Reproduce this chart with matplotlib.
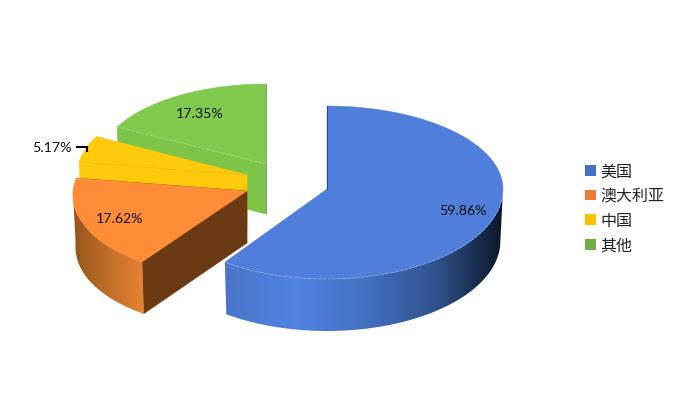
import numpy as np
import matplotlib

matplotlib.use("Agg")
import matplotlib.pyplot as plt
from matplotlib.colors import LinearSegmentedColormap
from matplotlib.patches import Patch, Polygon

plt.rcParams["font.family"] = ["Noto Sans CJK SC", "DejaVu Sans"]

# data
categories = ["美国", "澳大利亚", "中国", "其他"]
shares = [59.86, 17.62, 5.17, 17.35]
labels = ["59.86%", "17.62%", "5.17%", "17.35%"]

# colours
TOP_COLORS = ["#4F7FDA", "#FF8C36", "#FFC90C", "#7FC94C"]
LEGEND_COLORS = ["#4472C4", "#ED7D31", "#FFC000", "#70AD47"]
INNER_COLORS = ["#2A4A80", "#6B3A13", "#FFC90C", "#7CC549"]
WALL_STOPS = [
    ["#4A76C9", "#5183E2", "#4471C4", "#31548F", "#0A1626"],
    ["#94551C", "#C06E27", "#E88232"],
    ["#FFC90C", "#FFC90C"],
    ["#7CC549", "#7CC549"],
]

# layout of each exploded slice, in figure pixels
APEX_X = [327, 247, 247, 266]
APEX_Y = [190, 192, 176, 165]
RADIUS_X = [176, 174, 170, 168]
RADIUS_BACK = [83, 83, 83, 80]
RADIUS_FRONT = [90, 87, 87, 87]
WIDEN = [0.0, 0.045, 0.0, 0.0]
DEPTH = [52, 52, 52, 50]
BOTTOM_SHRINK = 0.985
LABEL_X = [463, 120, 52, 200]
LABEL_Y = [211.5, 219.5, 148.5, 113.5]


def rim(i, angles, depth=0.0):
    # angles run clockwise from straight up
    shrink = BOTTOM_SHRINK if depth else 1.0
    cos = np.cos(angles)
    ry = np.where(cos >= 0, RADIUS_BACK[i], RADIUS_FRONT[i])
    rx = RADIUS_X[i] / (1 + WIDEN[i] * cos)
    x = APEX_X[i] + rx * shrink * np.sin(angles)
    y = APEX_Y[i] - ry * cos + depth
    return np.column_stack([x, y])


fig = plt.figure(figsize=(6.75, 4.1), dpi=100)
ax = fig.add_axes([0, 0, 1, 1])

edges = np.radians(np.concatenate([[0], np.cumsum(shares)]) * 3.6)
# back slices first, the big blue one goes on top
draw_order = [3, 2, 1, 0]

for order, i in enumerate(draw_order):
    z = 2 + order * 5
    start, end = edges[i], edges[i + 1]
    apex = np.array([APEX_X[i], APEX_Y[i]], dtype=float)
    low = apex + [0, DEPTH[i]]

    # flat cut faces, blue's are hidden behind its own top
    if i != 0:
        for a in (start, end):
            p_top = rim(i, np.array([a]))[0]
            p_low = rim(i, np.array([a]), DEPTH[i])[0]
            ax.add_patch(
                Polygon(
                    [apex, p_top, p_low, low],
                    facecolor=INNER_COLORS[i],
                    edgecolor=INNER_COLORS[i],
                    linewidth=0.3,
                    zorder=z,
                )
            )

    # curved outer wall with a left to right gradient
    wall_a = np.linspace(start, end, 300)
    wall_a = wall_a[np.cos(wall_a) <= 0]
    if len(wall_a):
        top_rim = rim(i, wall_a)
        low_rim = rim(i, wall_a, DEPTH[i])
        outline = np.vstack([top_rim, low_rim[::-1]])
        cmap = LinearSegmentedColormap.from_list("wall", WALL_STOPS[i])
        im = ax.imshow(
            np.linspace(0, 1, 256).reshape(1, -1),
            cmap=cmap,
            aspect="auto",
            extent=(outline[:, 0].min(), outline[:, 0].max(), outline[:, 1].max(), outline[:, 1].min()),
            zorder=z + 1,
        )
        clip = Polygon(outline, transform=ax.transData, facecolor="none", edgecolor="none")
        ax.add_patch(clip)
        im.set_clip_path(clip)

    # top face
    top_a = np.linspace(start, end, 200)
    ax.add_patch(
        Polygon(
            np.vstack([apex, rim(i, top_a)]),
            facecolor=TOP_COLORS[i],
            edgecolor=TOP_COLORS[i],
            linewidth=0.3,
            zorder=z + 2,
        )
    )

ax.set_xlim(0, 675)
ax.set_ylim(410, 0)
ax.axis("off")

# faint lines along the top face edges
front = np.linspace(edges[0], edges[1], 200)
front = front[np.cos(front) < 0]
ax.plot(*rim(0, front).T, color="#AFC4EE", lw=0.5, ls=(0, (5, 2)), alpha=0.6, zorder=20)
green_edge = np.vstack([rim(3, np.array([edges[3]])), [[APEX_X[3], APEX_Y[3]]]])
ax.plot(*green_edge.T, color="#B5E090", lw=0.5, ls=(0, (5, 2)), alpha=0.8, zorder=6)
yellow_edge = np.vstack([rim(2, np.array([edges[2]])), [[APEX_X[2], APEX_Y[2]]]])
ax.plot(*yellow_edge.T, color="#D9AE14", lw=0.4, alpha=0.7, zorder=11)
ax.plot(
    [APEX_X[0], APEX_X[0]],
    [APEX_Y[0] - RADIUS_BACK[0], APEX_Y[0]],
    color="#2A4A80",
    lw=0.7,
    zorder=20,
)
ax.plot(
    [APEX_X[3], APEX_X[3]],
    [APEX_Y[3] - RADIUS_BACK[3], APEX_Y[3] + DEPTH[3]],
    color="#6E8F55",
    lw=0.5,
    zorder=6,
)

# value labels
for i, text in enumerate(labels):
    ax.text(
        LABEL_X[i],
        LABEL_Y[i],
        text,
        fontsize=10.2,
        family=["Lato", "DejaVu Sans"],
        color="#111111",
        ha="center",
        va="center",
        zorder=30,
    )

# leader line for the small slice
ax.plot([77, 87, 87], [148, 148, 151.5], color="black", lw=1.5, solid_joinstyle="miter", zorder=30)

handles = [Patch(facecolor=c, edgecolor="none") for c in LEGEND_COLORS]
ax.legend(
    handles,
    categories,
    loc="center left",
    bbox_to_anchor=(585 / 675, 1 - 209.5 / 410),
    frameon=False,
    fontsize=11.5,
    handlelength=0.66,
    handleheight=0.66,
    handletextpad=0.3,
    labelspacing=0.48,
    borderpad=0,
    borderaxespad=0,
    labelcolor="#222222",
)

fig.savefig("out.png", dpi=100)
